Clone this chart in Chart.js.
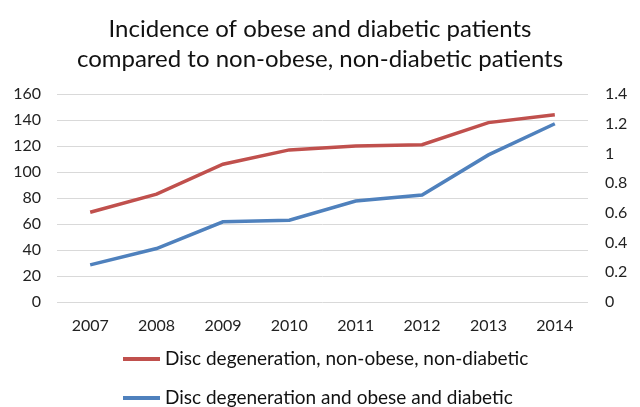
<!DOCTYPE html>
<html>
<head>
<meta charset="utf-8">
<script src="https://cdn.jsdelivr.net/npm/chart.js@4.4.0/dist/chart.umd.min.js"></script>
<style>
  html, body { margin: 0; padding: 0; background: #fff; }
  #wrap { position: relative; width: 640px; height: 407px; overflow: hidden; }
  canvas { position: absolute; left: 0; top: 0; }
  .leg { position: absolute; left: 123px; font-family: Lato, sans-serif; font-size: 19px; color: #111; white-space: nowrap; }
  .leg span.sw { display: inline-block; width: 37px; height: 4px; vertical-align: middle; margin-right: 5px; position: relative; top: -1px; }
</style>
</head>
<body>
<div id="wrap">
  <canvas id="c" width="640" height="407"></canvas>
  <div id="legend"></div>
</div>
<script>
const categories = ['2007', '2008', '2009', '2010', '2011', '2012', '2013', '2014'];
const seriesNames = ['Disc degeneration, non-obese, non-diabetic', 'Disc degeneration and obese and diabetic'];
const nonObeseValues = [69, 83, 106, 117, 120, 121, 138, 144];
const obeseDiabeticValues = [0.25, 0.36, 0.54, 0.55, 0.68, 0.72, 0.99, 1.2];
const leftTicks = [0, 20, 40, 60, 80, 100, 120, 140, 160];
const rightTicks = [0, 0.2, 0.4, 0.6, 0.8, 1, 1.2, 1.4];
const colors = ['#C0504D', '#4F81BD'];

const font = 'Lato, sans-serif';

new Chart(document.getElementById('c'), {
  type: 'line',
  data: {
    labels: categories,
    datasets: [
      { label: seriesNames[0], data: nonObeseValues, borderColor: colors[0], backgroundColor: colors[0], borderWidth: 3.5, pointRadius: 0, tension: 0, yAxisID: 'y' },
      { label: seriesNames[1], data: obeseDiabeticValues, borderColor: colors[1], backgroundColor: colors[1], borderWidth: 3.5, pointRadius: 0, tension: 0, yAxisID: 'y1' }
    ]
  },
  options: {
    responsive: false,
    animation: false,
    layout: { padding: { left: 0, right: 0, top: 0, bottom: 0 } },
    plugins: {
      legend: { display: false },
      tooltip: { enabled: false },
      title: {
        display: true,
        text: ['Incidence of obese and diabetic patients', 'compared to non-obese, non-diabetic patients'],
        color: '#111',
        font: { family: font, size: 24, weight: 'normal', lineHeight: 1.25 },
        padding: { top: 14, bottom: 20 }
      }
    },
    scales: {
      x: {
        offset: true,
        grid: { display: false, drawTicks: false },
        border: { display: false },
        ticks: { color: '#222', font: { family: font, size: 16 }, padding: 14 },
        afterFit(s) { s.height = 105; }
      },
      y: {
        position: 'left',
        min: 0, max: 160,
        afterBuildTicks(s) { s.ticks = leftTicks.map(v => ({ value: v })); },
        grid: { color: '#d9d9d9', lineWidth: 1, drawTicks: false },
        border: { display: false },
        ticks: { color: '#222', font: { family: font, size: 16 }, padding: 16 },
        afterFit(s) { s.width = 57; }
      },
      y1: {
        position: 'right',
        min: 0, max: 1.4,
        afterBuildTicks(s) { s.ticks = rightTicks.map(v => ({ value: v })); },
        grid: { display: false, drawTicks: false },
        border: { display: false },
        ticks: { color: '#222', font: { family: font, size: 16 }, padding: 17, callback: v => String(Math.round(v * 10) / 10) },
        afterFit(s) { s.width = 52; }
      }
    }
  }
});

const legend = document.getElementById('legend');
const tops = [346, 385];
seriesNames.forEach((n, i) => {
  const d = document.createElement('div');
  d.className = 'leg';
  d.style.top = tops[i] + 'px';
  d.innerHTML = '<span class="sw" style="background:' + colors[i] + '"></span>' + n;
  legend.appendChild(d);
});
</script>
</body>
</html>
